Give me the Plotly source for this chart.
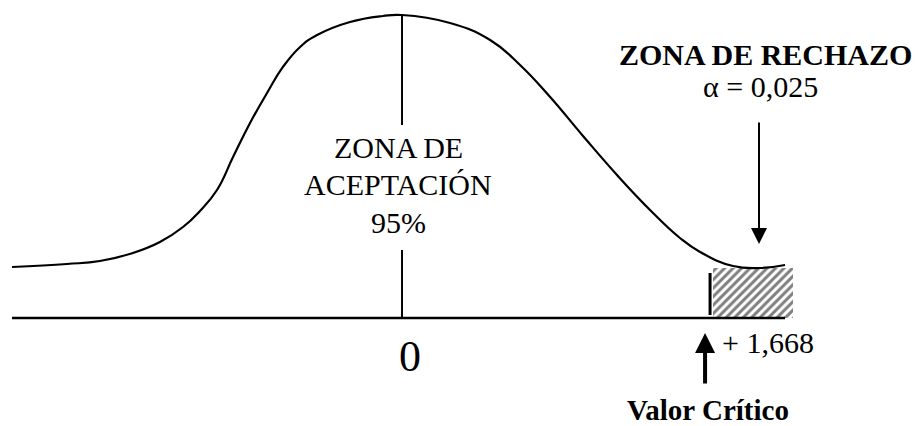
import plotly.graph_objects as go

# ---- data (z units, relative density) ----
curve_z = [-2.112, -1.814, -1.636, -1.457, -1.311, -1.186, -1.094, -1.002, -0.915,
           -0.823, -0.731, -0.645, -0.552, -0.460, -0.282, -0.103, 0.0,
           0.260, 0.477, 0.639, 0.802, 0.980, 1.164, 1.343, 1.505, 1.614, 1.793,
           1.939, 2.074]
curve_y = [0.0673, 0.0713, 0.0752, 0.0858, 0.1003, 0.1201, 0.1413, 0.1690, 0.2125,
           0.2574, 0.2970, 0.3314, 0.3578, 0.3736, 0.3908, 0.3987, 0.4000,
           0.3894, 0.3670, 0.3340, 0.2917, 0.2403, 0.1888, 0.1426, 0.1056, 0.0871, 0.0686,
           0.0660, 0.0700]

axis_z = [-2.112, 2.074]
mean_z = 0.0
critical_z = 1.668
reject_z = [1.684, 2.117]
reject_height = 0.066
alpha_label = "α = 0,025"
critical_label = "+ 1,668"
accept_lines = ["ZONA DE", "ACEPTACIÓN", "95%"]
reject_title = "<b>ZONA DE RECHAZO</b>"
critical_title = "<b>Valor Crítico</b>"
mean_label = "0"

SERIF = "Liberation Serif, Times New Roman, serif"
fig = go.Figure()

# hatched rejection region
fig.add_trace(go.Scatter(
    x=[reject_z[0], reject_z[1], reject_z[1], reject_z[0], reject_z[0]],
    y=[0, 0, reject_height, reject_height, 0],
    fill="toself", mode="lines", line=dict(width=0, color="rgba(0,0,0,0)"),
    fillcolor="white",
    fillpattern=dict(shape="/", size=6, solidity=0.5, fgcolor="black", bgcolor="white"),
    hoverinfo="skip"))

# bell curve
fig.add_trace(go.Scatter(x=curve_z, y=curve_y, mode="lines",
                         line=dict(color="black", width=2.2, shape="spline", smoothing=1.3),
                         hoverinfo="skip"))
# base axis
fig.add_trace(go.Scatter(x=axis_z, y=[0, 0], mode="lines",
                         line=dict(color="black", width=2.5), hoverinfo="skip"))
# center line (two segments around text)
fig.add_trace(go.Scatter(x=[mean_z, mean_z, None, mean_z, mean_z],
                         y=[0.4, 0.2548, None, 0.0898, 0.0],
                         mode="lines", line=dict(color="black", width=2), hoverinfo="skip"))
# critical value line
fig.add_trace(go.Scatter(x=[critical_z, critical_z], y=[0.0594, 0.004], mode="lines",
                         line=dict(color="black", width=3), hoverinfo="skip"))

# arrows
fig.add_annotation(x=1.933, y=0.0977, ax=1.933, ay=0.260, xref="x", yref="y",
                   axref="x", ayref="y", text="", showarrow=True,
                   arrowhead=2, arrowsize=1.6, arrowwidth=2, arrowcolor="black")
fig.add_annotation(x=1.641, y=-0.0198, ax=1.641, ay=-0.0884, xref="x", yref="y",
                   axref="x", ayref="y", text="", showarrow=True,
                   arrowhead=2, arrowsize=1.0, arrowwidth=4, arrowcolor="black")

# texts
accept_y = [0.2250, 0.1765, 0.1265]
for line, yy in zip(accept_lines, accept_y):
    fig.add_annotation(x=-0.02, y=yy, text=line, showarrow=False,
                       font=dict(family=SERIF, size=30, color="black"))
fig.add_annotation(x=0.043, y=-0.0515, text=mean_label, showarrow=False,
                   font=dict(family=SERIF, size=44, color="black"))
fig.add_annotation(x=1.722, y=-0.0317, text=critical_label, showarrow=False, xanchor="left",
                   font=dict(family=SERIF, size=30, color="black"))
fig.add_annotation(x=1.657, y=-0.1215, text=critical_title, showarrow=False,
                   font=dict(family=SERIF, size=29, color="black"))
fig.add_annotation(x=1.966, y=0.3485, text=reject_title, showarrow=False,
                   font=dict(family=SERIF, size=30, color="black"))
fig.add_annotation(x=1.939, y=0.3050, text=alpha_label, showarrow=False,
                   font=dict(family=SERIF, size=30, color="black"))

fig.update_xaxes(range=[-2.177, 2.794], visible=False, showgrid=False, zeroline=False)
fig.update_yaxes(range=[-0.1426, 0.4198], visible=False, showgrid=False, zeroline=False)
fig.update_layout(width=918, height=426, margin=dict(l=0, r=0, t=0, b=0),
                  plot_bgcolor="white", paper_bgcolor="white", showlegend=False)
fig.write_html("out.html", config={"displayModeBar": False},
               post_script="document.body.style.margin='0';")
